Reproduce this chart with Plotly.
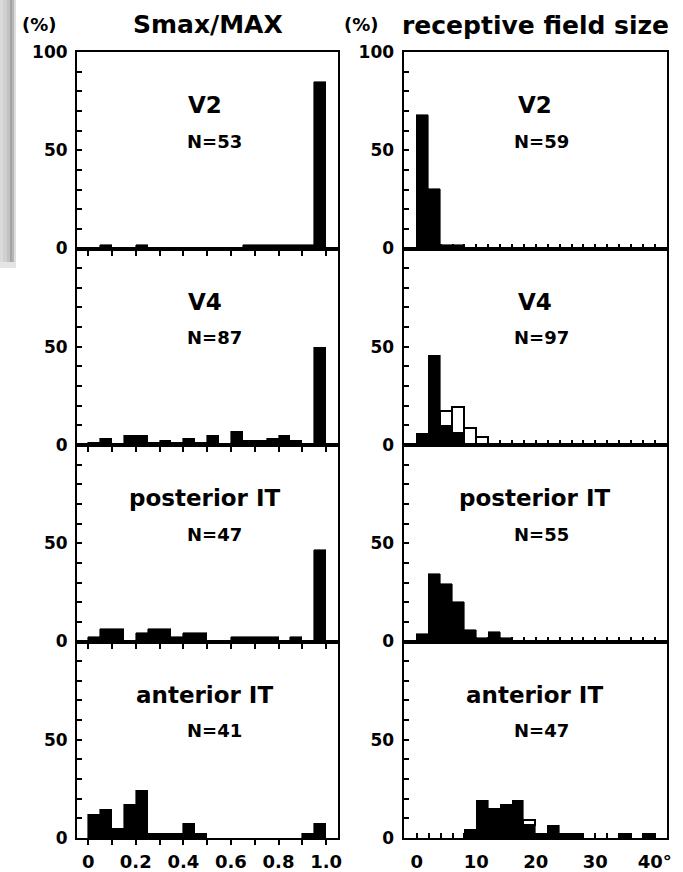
import plotly.graph_objects as go

W, H = 683, 872

# ---------------- data (percent of cells per bin) ----------------
smax_centers = [0.025, 0.075, 0.125, 0.175, 0.225, 0.275, 0.325, 0.375, 0.425, 0.475,
                0.525, 0.575, 0.625, 0.675, 0.725, 0.775, 0.825, 0.875, 0.925, 0.975]
rf_centers = [1, 3, 5, 7, 9, 11, 13, 15, 17, 19, 21, 23, 25, 27, 29, 31, 33, 35, 37, 39]

smax_v2 = [0, 1.9, 0, 0, 1.9, 0, 0, 0, 0, 0, 0, 0, 0, 1.9, 1.9, 1.9, 1.9, 1.9, 1.9, 84.9]
smax_v4 = [1.1, 3.4, 0, 4.6, 4.6, 1.1, 2.3, 1.1, 3.4, 1.1, 4.6, 0, 6.9, 2.3, 2.3, 3.4, 4.6, 2.3, 0, 49.4]
smax_pit = [2.1, 6.4, 6.4, 0, 4.3, 6.4, 6.4, 2.1, 4.3, 4.3, 0, 0, 2.1, 2.1, 2.1, 2.1, 0, 2.1, 0, 46.8]
smax_ait = [12.2, 14.6, 4.9, 17.1, 24.4, 2.4, 2.4, 2.4, 7.3, 2.4, 0, 0, 0, 0, 0, 0, 0, 0, 2.4, 7.3]

rf_v2 = [67.8, 30.5, 1.7, 1.7, 0, 0, 0, 0, 0, 0, 0, 0, 0, 0, 0, 0, 0, 0, 0, 0]
rf_v4_black = [6.0, 45.3, 9.6, 5.7, 0, 0, 0, 0, 0, 0, 0, 0, 0, 0, 0, 0, 0, 0, 0, 0]
rf_v4_white = [0, 0, 7.3, 13.3, 8.3, 3.6, 0, 0, 0, 0, 0, 0, 0, 0, 0, 0, 0, 0, 0, 0]
rf_pit = [4.0, 34.6, 29.3, 20.0, 6.0, 2.0, 4.6, 2.0, 0, 0, 0, 0, 0, 0, 0, 0, 0, 0, 0, 0]
rf_ait_black = [0, 0, 0, 0, 4.3, 19.1, 14.9, 17.0, 19.1, 6.4, 2.1, 6.4, 2.1, 2.1, 0, 0, 0, 2.1, 0, 2.1]
rf_ait_white = [0, 0, 0, 0, 0, 0, 0, 0, 0, 2.3, 0, 0, 0, 0, 0, 0, 0, 0, 0, 0]

areas = ["V2", "V4", "posterior IT", "anterior IT"]
smax_n = ["N=53", "N=87", "N=47", "N=41"]
rf_n = ["N=59", "N=97", "N=55", "N=47"]

smax_series = [smax_v2, smax_v4, smax_pit, smax_ait]
rf_black_series = [rf_v2, rf_v4_black, rf_pit, rf_ait_black]
rf_white_series = [None, rf_v4_white, None, rf_ait_white]

smax_ticks = [0, 0.1, 0.2, 0.3, 0.4, 0.5, 0.6, 0.7, 0.8, 0.9, 1.0]
smax_ticktext = ["0", "", "0.2", "", "0.4", "", "0.6", "", "0.8", "", "1.0"]
rf_ticks = [0, 2, 4, 6, 8, 10, 12, 14, 16, 18, 20, 22, 24, 26, 28, 30, 32, 34, 36, 38, 40]
rf_ticktext = ["0", "", "", "", "", "10", "", "", "", "", "20", "", "", "", "", "30", "", "", "", "", "40°"]
y_ticks = [0, 10, 20, 30, 40, 50, 60, 70, 80, 90, 100]

FONT = "DejaVu Sans"

# ---------------- layout geometry (pixels) ----------------
LX0, LX1 = 77, 338
RX0, RX1 = 403.5, 666.5
TOP, PH = 52, 196.5


def py(px):
    return 1 - px / H


def nz(vals):
    return [v if v else None for v in vals]


fig = go.Figure()
layout = dict(
    width=W, height=H, autosize=False,
    margin=dict(l=0, r=0, t=0, b=0, pad=0),
    paper_bgcolor="white", plot_bgcolor="white",
    showlegend=False, barmode="stack", bargap=0,
    font=dict(family=FONT, color="black"),
)

annotations = []

for r in range(4):
    top = TOP + r * PH
    bot = top + PH
    ydom = [py(bot), py(top)]
    li, ri = 2 * r + 1, 2 * r + 2
    last = r == 3

    # ----- left column: Smax/MAX -----
    fig.add_trace(go.Bar(
        x=smax_centers, y=nz(smax_series[r]), width=0.05,
        marker=dict(color="black", line=dict(color="black", width=0.6)),
        xaxis=f"x{li}", yaxis=f"y{li}",
    ))
    # ----- right column: receptive field size -----
    fig.add_trace(go.Bar(
        x=rf_centers, y=nz(rf_black_series[r]), width=2,
        marker=dict(color="black", line=dict(color="black", width=0.6)),
        xaxis=f"x{ri}", yaxis=f"y{ri}",
    ))
    if rf_white_series[r] is not None:
        fig.add_trace(go.Bar(
            x=rf_centers, y=nz(rf_white_series[r]), width=2,
            marker=dict(color="white", line=dict(color="black", width=1.6)),
            xaxis=f"x{ri}", yaxis=f"y{ri}",
        ))

    ytext = ["0", "", "", "", "", "50", "", "", "", "", "100" if r == 0 else ""]
    yax = dict(
        range=[0, 100], tickvals=y_ticks, ticktext=ytext,
        ticks="inside", ticklen=5, tickwidth=1.5, tickcolor="black",
        showline=True, mirror=True, linecolor="black", linewidth=2,
        showgrid=False, zeroline=False, fixedrange=True, automargin=False,
        tickfont=dict(family=FONT, size=17, weight="bold", color="black"),
        ticklabelstandoff=4,
    )
    layout[f"yaxis{li}"] = dict(yax, domain=ydom, anchor=f"x{li}")
    layout[f"yaxis{ri}"] = dict(yax, domain=ydom, anchor=f"x{ri}")

    layout[f"xaxis{li}"] = dict(
        domain=[LX0 / W, LX1 / W], anchor=f"y{li}",
        range=[-0.047, 1.05], tickvals=smax_ticks,
        ticktext=smax_ticktext if last else [""] * len(smax_ticks),
        ticks="outside", ticklen=5, tickwidth=1.5, tickcolor="black",
        showline=True, mirror=True, linecolor="black", linewidth=2,
        showgrid=False, zeroline=False, fixedrange=True, automargin=False,
        tickfont=dict(family=FONT, size=18, weight="bold", color="black"),
        ticklabelstandoff=1,
    )
    layout[f"xaxis{ri}"] = dict(
        domain=[RX0 / W, RX1 / W], anchor=f"y{ri}",
        range=[-2.24, 41.96], tickvals=rf_ticks,
        ticktext=rf_ticktext if last else [""] * len(rf_ticks),
        ticks="inside", ticklen=5, tickwidth=1.5, tickcolor="black",
        showline=True, mirror=True, linecolor="black", linewidth=2,
        showgrid=False, zeroline=False, fixedrange=True, automargin=False,
        tickfont=dict(family=FONT, size=18, weight="bold", color="black"),
        ticklabelstandoff=6,
    )

    # panel labels
    annotations.append(dict(
        text=areas[r], x=0.49, y=73, xref=f"x{li}", yref=f"y{li}",
        showarrow=False, font=dict(family=FONT, size=23, weight="bold", color="black"),
    ))
    annotations.append(dict(
        text=smax_n[r], x=0.53, y=54.5, xref=f"x{li}", yref=f"y{li}",
        showarrow=False, font=dict(family=FONT, size=18, weight="bold", color="black"),
    ))
    annotations.append(dict(
        text=areas[r], x=19.8, y=73, xref=f"x{ri}", yref=f"y{ri}",
        showarrow=False, font=dict(family=FONT, size=23, weight="bold", color="black"),
    ))
    annotations.append(dict(
        text=rf_n[r], x=20.9, y=54.5, xref=f"x{ri}", yref=f"y{ri}",
        showarrow=False, font=dict(family=FONT, size=18, weight="bold", color="black"),
    ))

# column headers
headers = [
    ("(%)", 39, 24, 18),
    ("Smax/MAX", 208, 24, 25),
    ("(%)", 361, 24, 18),
    ("receptive field size", 535, 25, 25),
]
for txt, xp, yp, sz in headers:
    annotations.append(dict(
        text=txt, x=xp / W, y=py(yp), xref="paper", yref="paper",
        showarrow=False, xanchor="center", yanchor="middle",
        font=dict(family=FONT, size=sz, weight="bold", color="black"),
    ))

# scanner shadow along the left edge
shapes = []
strips = [(0, 3, "#dadada"), (3, 7, "#d0d0d0"), (7, 10, "#c2c2c2"),
          (10, 12, "#a4a4a4"), (12, 14, "#b6b6b6"), (14, 16, "#dddddd")]
for x0, x1, col in strips:
    shapes.append(dict(type="rect", xref="paper", yref="paper",
                       x0=x0 / W, x1=x1 / W, y0=py(262), y1=1,
                       fillcolor=col, line=dict(width=0), layer="below"))
shapes.append(dict(type="rect", xref="paper", yref="paper",
                   x0=0, x1=16 / W, y0=py(268), y1=py(262),
                   fillcolor="#e4e4e4", line=dict(width=0), layer="below"))

layout["annotations"] = annotations
layout["shapes"] = shapes
fig.update_layout(**layout)

fig.write_html(
    "out.html",
    config={"displayModeBar": False},
    post_script=(
        "document.documentElement.style.margin='0';"
        "document.body.style.margin='0';"
        "window.scrollTo(0,0);"
    ),
)
